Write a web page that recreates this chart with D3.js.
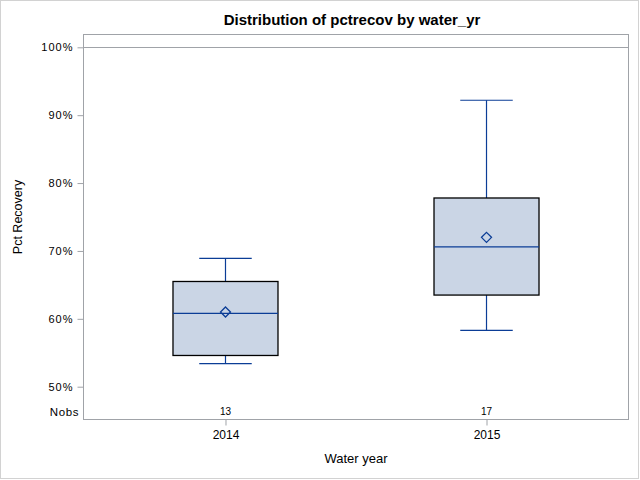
<!DOCTYPE html>
<html>
<head>
<meta charset="utf-8">
<title>Distribution of pctrecov by water_yr</title>
<script src="https://d3js.org/d3.v7.min.js"></script>
<style>
  body { margin: 0; background: #fff; }
  text { font-family: "Liberation Sans", Arial, sans-serif; fill: #000; }
  .tick text { letter-spacing: 1px; }
</style>
</head>
<body>
<svg width="640" height="480"></svg>
<script>
// data (percent)
var years  = ['2014', '2015'];
var nobs   = [13, 17];
var minV   = [53.4, 58.3];
var q1V    = [54.6, 63.5];
var medV   = [60.8, 70.6];
var q3V    = [65.5, 77.8];
var maxV   = [68.9, 92.2];
var meanV  = [61.0, 72.0];
var yTicks = [50, 60, 70, 80, 90, 100];
var refLine = 100;

var boxes = years.map(function (y, i) {
  return { year: y, n: nobs[i], min: minV[i], q1: q1V[i], med: medV[i], q3: q3V[i], max: maxV[i], mean: meanV[i] };
});

var svg = d3.select('svg');
var pLeft = 83.5, pRight = 628.5, pTop = 34.5, pBottom = 419.5;
var blue = '#0b3d96', frame = '#a0a3a8';

// outer border
svg.append('rect')
  .attr('x', 0.5).attr('y', 0.5).attr('width', 638).attr('height', 478)
  .attr('fill', 'none').attr('stroke', '#d2d2d2');

var x = d3.scalePoint()
  .domain(years)
  .range([pLeft, pRight])
  .padding(0.544);

var y = d3.scaleLinear()
  .domain([50, 100])
  .range([386.7, 47.3]);

var boxW = 105;

// axes
var yAxis = svg.append('g')
  .attr('transform', 'translate(' + pLeft + ',0)')
  .call(d3.axisLeft(y).tickValues(yTicks).tickSize(6).tickPadding(4)
    .tickFormat(function (d) { return d + '%'; }));
yAxis.select('.domain').remove();
yAxis.selectAll('line').attr('stroke', frame);
yAxis.selectAll('text').attr('font-size', 11).style('font-family', '"Liberation Sans", Arial, sans-serif');

var xAxis = svg.append('g')
  .attr('transform', 'translate(0,' + pBottom + ')')
  .call(d3.axisBottom(x).tickSize(6).tickPadding(5));
xAxis.select('.domain').remove();
xAxis.selectAll('line').attr('stroke', frame);
xAxis.selectAll('text').attr('font-size', 12).style('font-family', '"Liberation Sans", Arial, sans-serif')
  .style('letter-spacing', '0px');

// frame
svg.append('rect')
  .attr('x', pLeft).attr('y', pTop)
  .attr('width', pRight - pLeft).attr('height', pBottom - pTop)
  .attr('fill', 'none').attr('stroke', frame);

// reference line
svg.append('line')
  .attr('x1', pLeft).attr('x2', pRight)
  .attr('y1', Math.round(y(refLine)) + 0.5).attr('y2', Math.round(y(refLine)) + 0.5)
  .attr('stroke', frame);

var g = svg.selectAll('.box').data(boxes).enter().append('g').attr('class', 'box');

// whiskers
g.append('line')
  .attr('x1', function (d) { return x(d.year); }).attr('x2', function (d) { return x(d.year); })
  .attr('y1', function (d) { return y(d.max); }).attr('y2', function (d) { return y(d.q3); })
  .attr('stroke', blue).attr('stroke-width', 1.2);
g.append('line')
  .attr('x1', function (d) { return x(d.year); }).attr('x2', function (d) { return x(d.year); })
  .attr('y1', function (d) { return y(d.q1); }).attr('y2', function (d) { return y(d.min); })
  .attr('stroke', blue).attr('stroke-width', 1.2);
['max', 'min'].forEach(function (k) {
  g.append('line')
    .attr('x1', function (d) { return x(d.year) - boxW / 4; })
    .attr('x2', function (d) { return x(d.year) + boxW / 4; })
    .attr('y1', function (d) { return y(d[k]); }).attr('y2', function (d) { return y(d[k]); })
    .attr('stroke', blue).attr('stroke-width', 1.2);
});

// box
g.append('rect')
  .attr('x', function (d) { return x(d.year) - boxW / 2; })
  .attr('y', function (d) { return y(d.q3); })
  .attr('width', boxW)
  .attr('height', function (d) { return y(d.q1) - y(d.q3); })
  .attr('fill', '#cad5e5').attr('stroke', '#000').attr('stroke-width', 1.3);

// median
g.append('line')
  .attr('x1', function (d) { return x(d.year) - boxW / 2; })
  .attr('x2', function (d) { return x(d.year) + boxW / 2; })
  .attr('y1', function (d) { return y(d.med); }).attr('y2', function (d) { return y(d.med); })
  .attr('stroke', blue).attr('stroke-width', 1.2);

// mean
g.append('path')
  .attr('transform', function (d) { return 'translate(' + x(d.year) + ',' + y(d.mean) + ')'; })
  .attr('d', 'M0,-5L5,0L0,5L-5,0Z')
  .attr('fill', 'none').attr('stroke', blue).attr('stroke-width', 1.3);

// Nobs row
svg.append('text')
  .attr('x', 79).attr('y', 415.5)
  .attr('text-anchor', 'end').attr('font-size', 11.5).style('letter-spacing', '0.6px')
  .text('Nobs');
g.append('text')
  .attr('x', function (d) { return x(d.year); }).attr('y', 415)
  .attr('text-anchor', 'middle').attr('font-size', 10)
  .text(function (d) { return d.n; });

// titles
svg.append('text')
  .attr('x', 352).attr('y', 25)
  .attr('text-anchor', 'middle').attr('font-size', 15).attr('font-weight', 'bold')
  .text('Distribution of pctrecov by water_yr');

svg.append('text')
  .attr('x', (pLeft + pRight) / 2).attr('y', 462.5)
  .attr('text-anchor', 'middle').attr('font-size', 13)
  .text('Water year');

svg.append('text')
  .attr('transform', 'translate(22,' + ((y(50) + y(100)) / 2) + ') rotate(-90)')
  .attr('text-anchor', 'middle').attr('font-size', 12.5)
  .text('Pct Recovery');
</script>
</body>
</html>
